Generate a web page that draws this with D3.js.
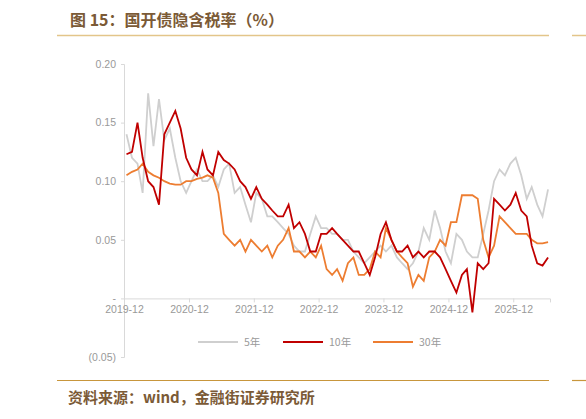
<!doctype html>
<html lang="zh">
<head>
<meta charset="UTF-8" />
<script src="https://d3js.org/d3.v7.min.js"></script>
<style>
  body { margin: 0; background: #fff; }
  svg { font-family: "Noto Sans CJK SC", "Liberation Sans", sans-serif; }
  .tick text { fill: #999; font-size: 10.5px; font-family: "Liberation Sans", "Noto Sans CJK SC", sans-serif; }
</style>
</head>
<body>
<svg width="586" height="419"></svg>
<script>
// monthly readings from 2019-12 to 2026-06
const startMonth = new Date(2019, 11, 15)
const series5y = [.14,.12,.115,.09,.175,.13,.17,.135,.145,.12,.10,.09,.10,.11,.10,.10,.105,.095,.11,.115,.09,.095,.08,.065,.09,.085,.07,.07,.065,.06,.055,.045,.04,.04,.055,.07,.06,.06,.055,.055,.05,.05,.04,.035,.03,.035,.04,.045,.04,.045,.035,.03,.025,.03,.04,.06,.05,.075,.06,.04,.03,.055,.05,.04,.035,.035,.055,.075,.10,.11,.105,.115,.12,.105,.085,.095,.08,.07,.093]
const series10y = [.123,.125,.15,.12,.10,.095,.08,.14,.15,.16,.145,.12,.11,.105,.125,.11,.105,.125,.118,.115,.11,.10,.095,.085,.095,.085,.08,.075,.07,.07,.08,.06,.065,.055,.04,.04,.055,.055,.06,.055,.05,.045,.04,.04,.03,.02,.035,.055,.065,.05,.04,.04,.045,.035,.04,.035,.04,.04,.035,.025,.015,.005,.02,.025,-.012,.03,.025,.03,.085,.08,.075,.08,.09,.075,.07,.045,.03,.028,.035]
const series30y = [.105,.108,.11,.115,.108,.105,.103,.10,.098,.097,.097,.10,.10,.102,.103,.105,.103,.09,.055,.05,.045,.05,.04,.05,.045,.04,.045,.035,.045,.05,.06,.04,.04,.035,.04,.035,.045,.025,.02,.025,.015,.03,.035,.02,.02,.025,.04,.035,.06,.05,.04,.035,.03,.01,.02,.015,.035,.04,.05,.045,.065,.065,.088,.088,.088,.085,.05,.035,.045,.07,.065,.06,.055,.055,.055,.05,.047,.047,.048]
const yTicks = [-0.05, 0, 0.05, 0.10, 0.15, 0.20]
const xTickLabels = ['2019-12','2020-12','2021-12','2022-12','2023-12','2024-12','2025-12']
const seriesNames = ['5年', '10年', '30年']
const colors = ['#cfcfcf', '#c00000', '#ed7d31']

const svg = d3.select('svg')
const brown = '#7b5a36'

svg.append('text').attr('x', 70).attr('y', 26).attr('fill', brown)
  .attr('font-size', 16).attr('font-weight', 'bold').text('图 15：国开债隐含税率（%）')
svg.append('line').attr('x1', 57).attr('x2', 549).attr('y1', 35.5).attr('y2', 35.5)
  .attr('stroke', '#e3c58a').attr('stroke-width', 1.5)
svg.append('line').attr('x1', 572).attr('x2', 586).attr('y1', 35.5).attr('y2', 35.5)
  .attr('stroke', '#e3c58a').attr('stroke-width', 1.5)
svg.append('line').attr('x1', 57).attr('x2', 549).attr('y1', 380.5).attr('y2', 380.5)
  .attr('stroke', '#c8963c').attr('stroke-width', 1.2)
svg.append('line').attr('x1', 572).attr('x2', 586).attr('y1', 380.5).attr('y2', 380.5)
  .attr('stroke', '#c8963c').attr('stroke-width', 1.2)
svg.append('text').attr('x', 68).attr('y', 403).attr('fill', brown)
  .attr('font-size', 15).attr('font-weight', 'bold').text('资料来源：wind，金融街证券研究所')

const dates = series10y.map((_, i) => d3.timeMonth.offset(startMonth, i))
const x = d3.scaleTime().domain([new Date(2019, 11, 1), new Date(2026, 5, 26)]).range([124, 550])
const y = d3.scaleLinear().domain([-0.05, 0.20]).range([357, 64])

const fmt = (d) => d === 0 ? '-' : d < 0 ? `(${Math.abs(d).toFixed(2)})` : d.toFixed(2)
const yAxis = svg.append('g').attr('transform', 'translate(124,0)')
  .call(d3.axisLeft(y).tickValues(yTicks).tickFormat(fmt).tickSize(3).tickPadding(5))
yAxis.selectAll('line, path').attr('stroke', '#d9d9d9')

const xTickDates = xTickLabels.map((s) => new Date(+s.slice(0, 4), +s.slice(5) - 1, 1))
const xAxis = svg.append('g').attr('transform', `translate(0,${y(0)})`)
  .call(d3.axisBottom(x).tickValues(xTickDates).tickFormat((d, i) => xTickLabels[i]).tickSize(4).tickPadding(3))
xAxis.selectAll('line, path').attr('stroke', '#d9d9d9')

const line = d3.line().x((d, i) => x(dates[i])).y((d) => y(d))
;[series5y, series30y, series10y].forEach((s, k) => {
  const idx = [0, 2, 1][k]
  svg.append('path').datum(s).attr('d', line).attr('fill', 'none')
    .attr('stroke', colors[idx]).attr('stroke-width', idx === 0 ? 1.8 : 1.8)
})

const legendX = [198, 283, 373]
seriesNames.forEach((n, i) => {
  svg.append('line').attr('x1', legendX[i]).attr('x2', legendX[i] + 40)
    .attr('y1', 342).attr('y2', 342).attr('stroke', colors[i]).attr('stroke-width', 2)
  svg.append('text').attr('x', legendX[i] + 46).attr('y', 346).attr('fill', '#999')
    .attr('font-size', 10.5).text(n)
})
</script>
</body>
</html>
